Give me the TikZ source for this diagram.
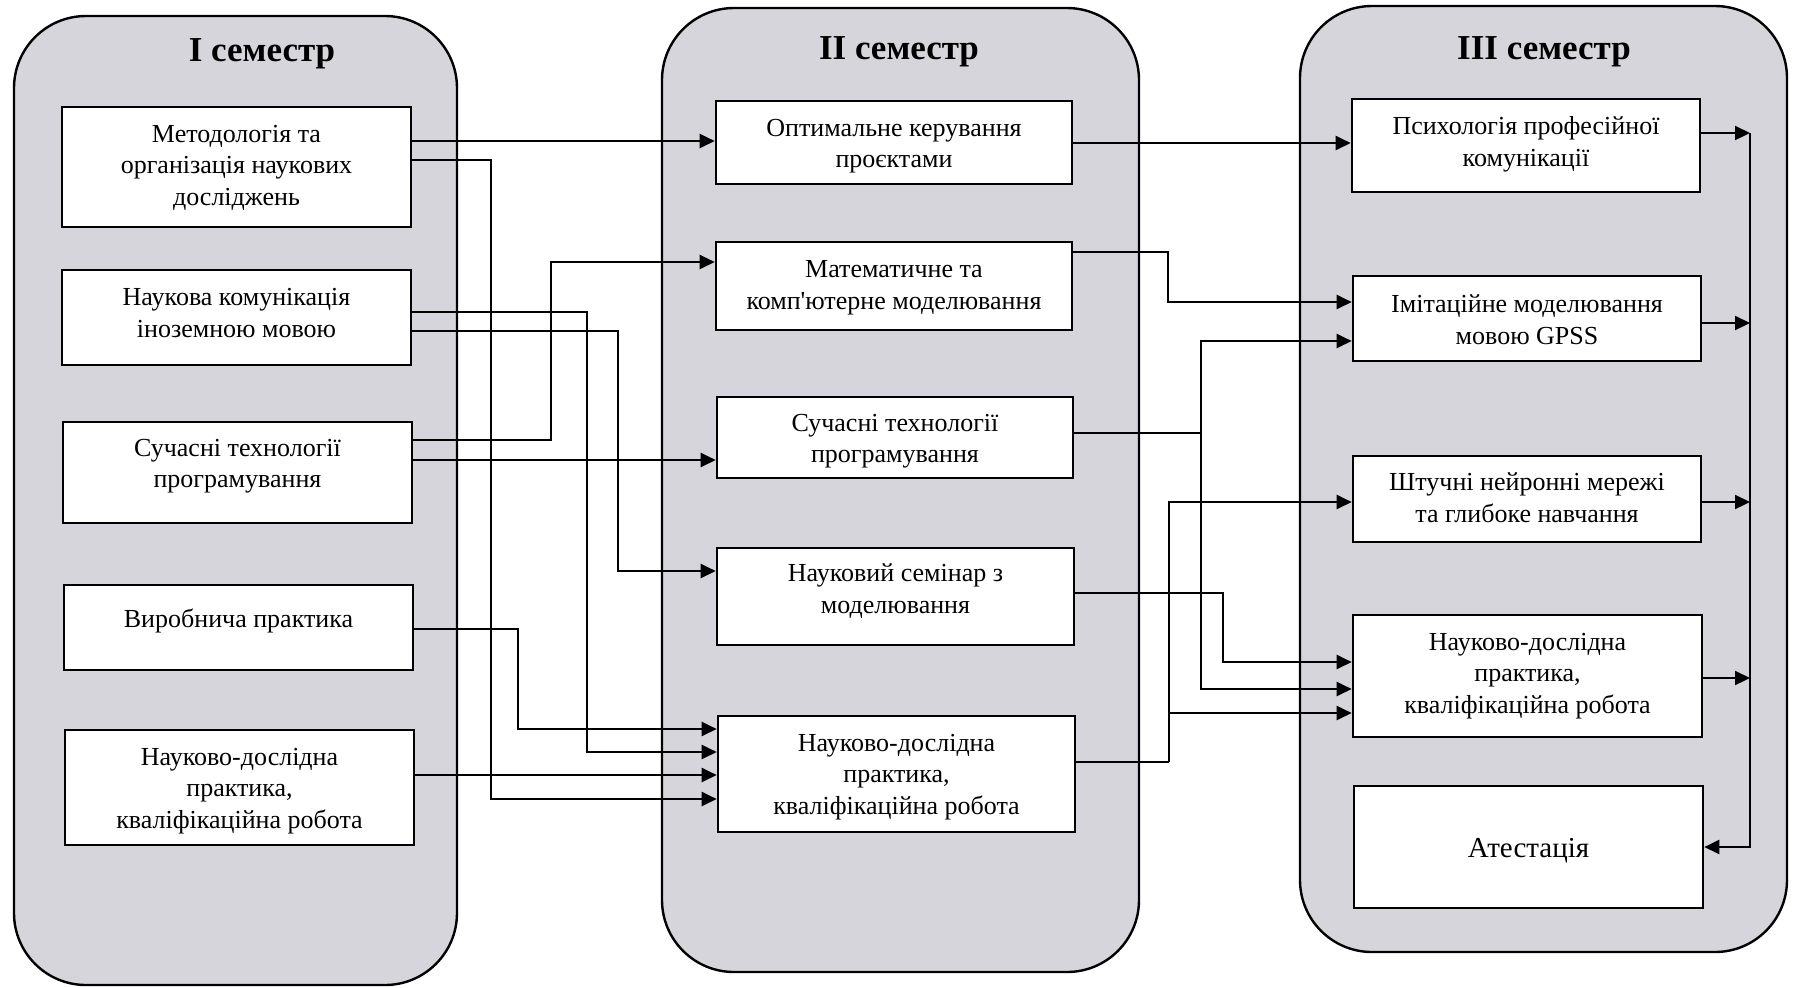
\documentclass[tikz,border=0pt]{standalone}
\usepackage{fontspec}
\setmainfont{Liberation Serif}[Ligatures=TeXOff]
\usetikzlibrary{arrows.meta}
\definecolor{panelgray}{RGB}{213,213,219}
\newcommand\boxfont{\fontsize{13}{15.8}\selectfont}
% [text style]{x1}{y1}{x2}{y2}{name}{text centre y} {text}
\newcommand\mkbox[7][]{\node[box,minimum width={(#4-#2)*0.5pt},minimum height={(#5-#3)*0.5pt}] (#6) at ({(#2+#4)/2},{(#3+#5)/2}) {};
  \node[txt,#1] (t#6) at ({(#2+#4)/2},#7)}
\begin{document}
\begin{tikzpicture}[x=0.5pt,y=-0.5pt,
  panel/.style={draw=black,line width=1.2pt,fill=panelgray,rounded corners=36pt},
  ttl/.style={font=\fontsize{17.5}{20}\selectfont\bfseries},
  box/.style={draw=black,line width=1.3pt,fill=white,inner sep=0pt},
  txt/.style={align=center,font=\boxfont,inner sep=0pt},
  ln/.style={line width=1.1pt},
  arr/.style={line width=1.1pt,-{Triangle[length=7.5pt,width=7pt]}}]
\useasboundingbox (0,0) rectangle (1796,987);
\fill[white] (0,0) rectangle (1796,987);
% panels
\draw[panel] (14,16) rectangle (457,985);
\draw[panel] (662,8) rectangle (1139,972);
\draw[panel] (1300,6) rectangle (1787,952);
\node[ttl] (h1) at (262,54) {I семестр};
\node[ttl] (h2) at (899,52) {II семестр};
\node[ttl] (h3) at (1544,52) {III семестр};
% column I
\mkbox{62}{107}{411}{227}{i1}{167.5} {Методологія та\\організація наукових\\досліджень};
\mkbox{62}{270}{411}{365}{i2}{313} {Наукова комунікація\\іноземною мовою};
\mkbox{63}{422}{412}{523}{i3}{466} {Сучасні технології\\програмування};
\mkbox{64}{585}{413}{670}{i4}{621} {Виробнича практика};
\mkbox{65}{730}{414}{845}{i5}{791} {Науково-дослідна\\практика,\\кваліфікаційна робота};
% column II
\mkbox{716}{101}{1072}{184}{ii1}{146} {Оптимальне керування\\проєктами};
\mkbox{716}{242}{1072}{330}{ii2}{287.5} {Математичне та\\комп'ютерне моделювання};
\mkbox{717}{397}{1073}{478}{ii3}{441} {Сучасні технології\\програмування};
\mkbox{717}{548}{1074}{645}{ii4}{591} {Науковий семінар з\\моделювання};
\mkbox{718}{716}{1075}{832}{ii5}{777} {Науково-дослідна\\практика,\\кваліфікаційна робота};
% column III
\mkbox{1352}{99}{1700}{192}{iii1}{144} {Психологія професійної\\комунікації};
\mkbox{1353}{276}{1701}{361}{iii2}{320} {Імітаційне моделювання\\мовою GPSS};
\mkbox{1353}{456}{1701}{542}{iii3}{497.5} {Штучні нейронні мережі\\та глибоке навчання};
\mkbox{1353}{615}{1702}{737}{iii4}{676} {Науково-дослідна\\практика,\\кваліфікаційна робота};
\mkbox[font=\fontsize{14.5}{17}\selectfont]{1354}{786}{1703}{908}{iii5}{851} {Атестація};
% connectors I -> II
\draw[arr] (i1.east |- 0,141) -- (ii1.west |- 0,141);
\draw[arr] (i1.east |- 0,160) -- (491,160) -- (491,799) -- (ii5.west |- 0,799);
\draw[arr] (i2.east |- 0,312) -- (587,312) -- (587,752) -- (ii5.west |- 0,752);
\draw[arr] (i2.east |- 0,331) -- (618,331) -- (618,571) -- (ii4.west |- 0,571);
\draw[arr] (i3.east |- 0,440) -- (551,440) -- (551,262) -- (ii2.west |- 0,262);
\draw[arr] (i3.east |- 0,460) -- (ii3.west |- 0,460);
\draw[arr] (i4.east |- 0,629) -- (518,629) -- (518,729) -- (ii5.west |- 0,729);
\draw[arr] (i5.east |- 0,775) -- (ii5.west |- 0,775);
% connectors II -> III
\draw[arr] (ii1.east |- 0,143) -- (iii1.west |- 0,143);
\draw[arr] (ii2.east |- 0,252) -- (1168,252) -- (1168,302) -- (iii2.west |- 0,302);
\coordinate (j3) at (1201,433);
\draw[ln] (ii3.east |- 0,433) -- (j3);
\draw[arr] (j3) -- (1201,341) -- (iii2.west |- 0,341);
\draw[arr] (j3) -- (1201,689) -- (iii4.west |- 0,689);
\draw[arr] (ii4.east |- 0,593) -- (1223,593) -- (1223,662) -- (iii4.west |- 0,662);
\coordinate (j5) at (1169,762);
\coordinate (j5b) at (1169,713);
\draw[ln] (ii5.east |- 0,762) -- (j5);
\draw[arr] (j5) -- (1169,502) -- (iii3.west |- 0,502);
\draw[arr] (j5b) -- (iii4.west |- 0,713);
% right bus
\coordinate (b1) at (1750,133);
\coordinate (b5) at (1750,847);
\draw[arr] (iii1.east |- 0,133) -- (b1);
\draw[arr] (iii2.east |- 0,323) -- (1750,323);
\draw[arr] (iii3.east |- 0,502) -- (1750,502);
\draw[arr] (iii4.east |- 0,678) -- (1750,678);
\draw[arr] (b1) -- (b5) -- (iii5.east |- b5);
\end{tikzpicture}
\end{document}
